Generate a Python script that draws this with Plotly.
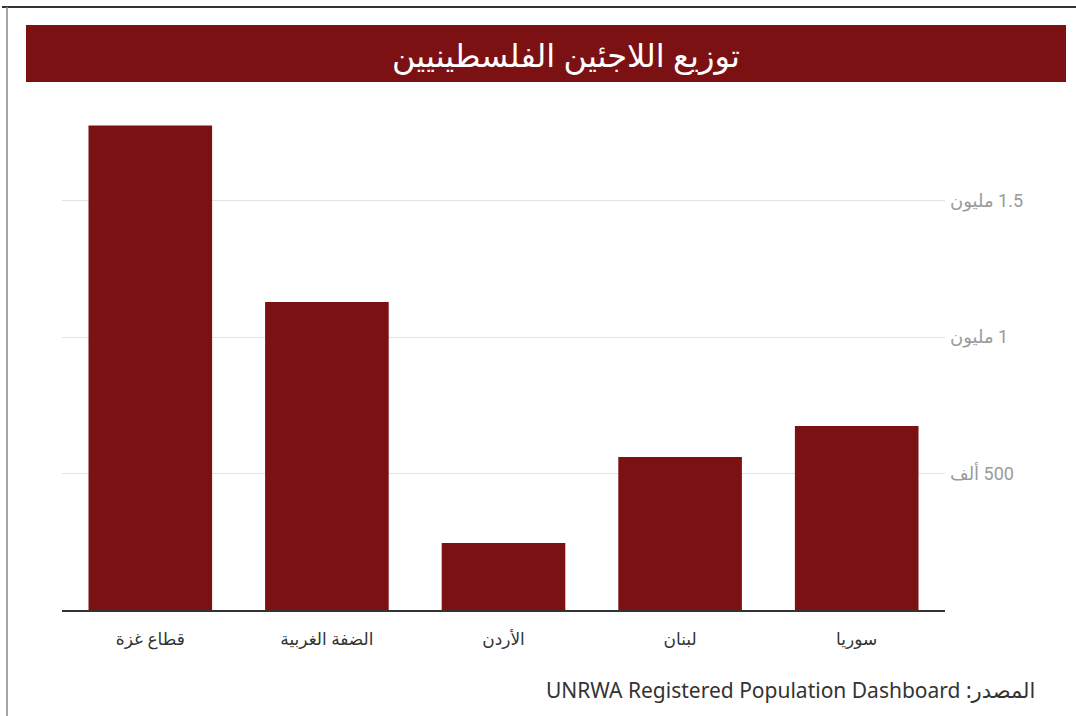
import plotly.graph_objects as go

categories = ["قطاع غزة", "الضفة الغربية", "الأردن", "لبنان", "سوريا"]
refugees = [1775000, 1128000, 245000, 560000, 674000]
tick_vals = [500000, 1000000, 1500000]
tick_text = ["500 ألف", "1 مليون", "1.5 مليون"]
title_text = "توزيع اللاجئين الفلسطينيين"
source_text = "المصدر: UNRWA Registered Population Dashboard"

RLE, PDF = "\u202b", "\u202c"
BAR = "#7b1113"

W, H = 1076, 716
L, R, T, B = 62, 945, 100, 610
pw, ph = R - L, B - T


def px(x):
    return (x - L) / pw


def py(y):
    return (B - y) / ph


fig = go.Figure(
    go.Bar(x=categories, y=refugees, marker=dict(color=BAR, line=dict(width=0)),
           hoverinfo="x+y")
)

fig.update_layout(
    width=W, height=H,
    margin=dict(l=L, r=W - R, t=T, b=H - B, pad=0),
    paper_bgcolor="white", plot_bgcolor="white",
    bargap=0.30,
    showlegend=False,
    font=dict(family="Noto Sans, DejaVu Sans", color="#333"),
    xaxis=dict(
        showgrid=False, showline=True, linecolor="#333", linewidth=2,
        ticks="", tickfont=dict(size=17, color="#333", family="Noto Sans, DejaVu Sans"),
        ticklabelstandoff=13,
    ),
    yaxis=dict(
        side="right", range=[0, (B - T) / 409.5 * 1500000],
        tickvals=tick_vals, ticktext=[RLE + t + PDF for t in tick_text],
        showgrid=True, gridcolor="#e3e3e3", gridwidth=1,
        zeroline=False, showline=False, ticks="",
        tickfont=dict(size=18, color="#9a9a9a", family="Roboto, DejaVu Sans"),
        ticklabelstandoff=4,
    ),
    shapes=[
        dict(type="rect", xref="paper", yref="paper",
             x0=px(26), x1=px(1066), y0=py(82), y1=py(25),
             fillcolor=BAR, line=dict(width=0), layer="below"),
        dict(type="line", xref="paper", yref="paper",
             x0=px(2), x1=px(1076), y0=py(7), y1=py(7),
             line=dict(color="#333", width=2)),
        dict(type="line", xref="paper", yref="paper",
             x0=px(7), x1=px(7), y0=py(7), y1=py(716),
             line=dict(color="#888", width=1.5)),
    ],
    annotations=[
        dict(text=title_text, xref="paper", yref="paper",
             x=px(566), y=py(54), xanchor="center", yanchor="middle",
             showarrow=False, font=dict(size=32, color="white",
                                        family="Noto Sans, DejaVu Sans")),
        dict(text=RLE + source_text + PDF, xref="paper", yref="paper",
             x=px(1037), y=py(690), xanchor="right", yanchor="middle",
             showarrow=False, font=dict(size=21, color="#333",
                                        family="Noto Sans, DejaVu Sans")),
    ],
)

fig.write_html("out.html", config={"displayModeBar": False},
               post_script="document.body.style.margin='0';")
